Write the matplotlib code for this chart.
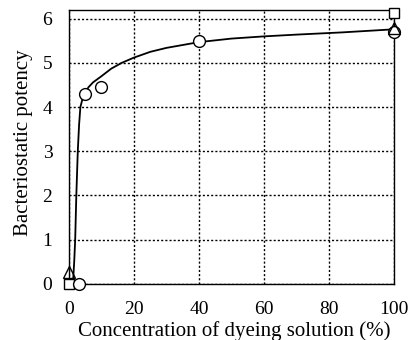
import matplotlib.pyplot as plt

plt.rcParams['font.family'] = ['Liberation Serif', 'DejaVu Serif']

# measured points
circ_x = [3, 5, 10, 40, 100]
circ_y = [0, 4.3, 4.45, 5.5, 5.7]
sq_x = [0, 100]
sq_y = [0, 6.12]
tri_x = [0, 100]
tri_y = [0.27, 5.8]

# fitted curve
curve_x = [1.2, 1.6, 1.9, 2.25, 2.7, 3.1, 3.5, 4.2, 5.0, 6.0, 7.4, 10, 13, 16.2, 20, 25, 30, 40, 50, 60, 70, 84, 100]
curve_y = [0.0, 0.5, 1.0, 2.0, 3.0, 3.6, 4.0, 4.2, 4.33, 4.45, 4.56, 4.7, 4.87, 5.0, 5.12, 5.25, 5.34, 5.47, 5.55, 5.6, 5.64, 5.69, 5.76]

fig = plt.figure(figsize=(4.12, 3.4), dpi=100)
ax = fig.add_axes([0.1675, 0.165, 0.7885, 0.806])

ax.plot(curve_x, curve_y, 'k-', lw=1.3, zorder=2)
ax.plot(sq_x, sq_y, 's', ms=7.5, mfc='white', mec='k', mew=1, clip_on=False, zorder=3)
ax.plot(circ_x, circ_y, 'o', ms=8.5, mfc='white', mec='k', mew=1, clip_on=False, zorder=4)
ax.plot(tri_x, tri_y, '^', ms=8, mfc='none', mec='k', mew=1, clip_on=False, zorder=5)

ax.set_xlim(0, 100)
ax.set_ylim(0, 6.2)
ax.set_xticks([0, 20, 40, 60, 80, 100])
ax.set_yticks([0, 1, 2, 3, 4, 5, 6])
ax.grid(True, color='k', ls=(0, (1.5, 1.5)), lw=1)
ax.tick_params(direction='in', length=0, labelsize=14)
ax.tick_params(axis='x', pad=12)
ax.tick_params(axis='y', pad=12)
for s in ax.spines.values():
    s.set_linewidth(1)
ax.set_xlabel('Concentration of dyeing solution (%)', fontsize=15)
ax.set_ylabel('Bacteriostatic potency', fontsize=15)
ax.xaxis.set_label_coords(0.51, -0.134)
ax.yaxis.set_label_coords(-0.11, 0.515)

fig.savefig('out.png', dpi=100)
